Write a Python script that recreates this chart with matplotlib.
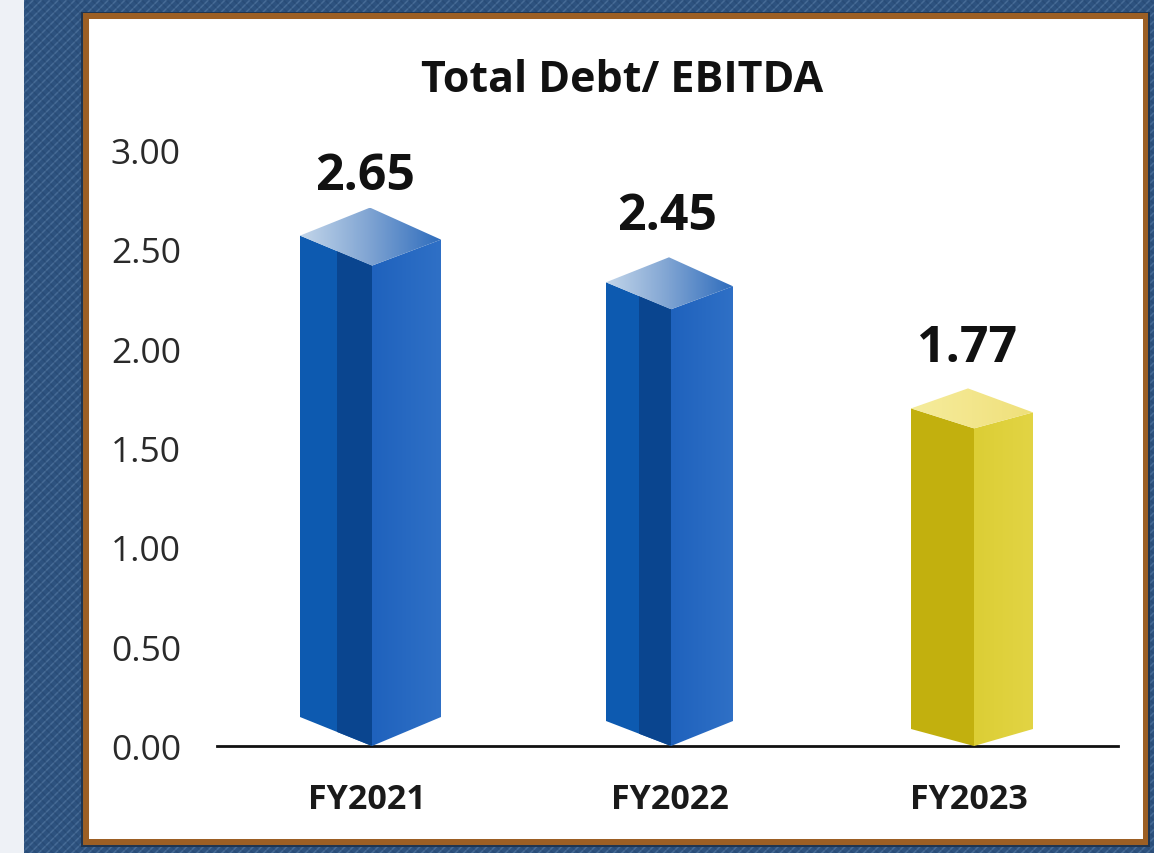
import matplotlib
matplotlib.use('Agg')
import matplotlib.pyplot as plt
import numpy as np
from matplotlib.colors import LinearSegmentedColormap
from matplotlib.patches import Polygon, Rectangle
from matplotlib.transforms import ScaledTranslation

categories = ['FY2021', 'FY2022', 'FY2023']
bar_labels = ['2.65', '2.45', '1.77']
# height of the back corner of each box
bar_tops = [2.71, 2.46, 1.80]
y_ticks = [0.0, 0.5, 1.0, 1.5, 2.0, 2.5, 3.0]

W, H = 1154, 854
plt.rcParams['font.family'] = ['Open Sans', 'DejaVu Sans']
plt.rcParams['hatch.linewidth'] = 1.1

fig = plt.figure(figsize=(W / 100, H / 100), dpi=100, facecolor='#eef1f6')

# page background, denim strip and brown frame, in pixel coordinates
bg = fig.add_axes([0, 0, 1, 1])
bg.set_xlim(0, W)
bg.set_ylim(H, 0)
bg.axis('off')
bg.add_patch(Rectangle((24, 0), W - 24, H, fc='#2d527f', ec='none'))
bg.add_patch(Rectangle((24, 0), W - 24, H, fc='none', ec='#5b80aa', hatch='////', lw=0, alpha=0.55))
bg.add_patch(Rectangle((24, 0), W - 24, H, fc='none', ec='#1d3a60', hatch='\\\\\\\\', lw=0, alpha=0.25))
bg.add_patch(Rectangle((81, 13), 1069, 835, fc='#1f3550', ec='none'))
bg.add_patch(Rectangle((83, 14), 1065, 832, fc='#9c5f24', ec='none'))
bg.add_patch(Rectangle((89, 20), 1054, 820, fc='white', ec='none'))

# plot axes: y 0-3 spans pixels 747-151, categories are 300 px apart
px_x = 1 / 300
px_y = 3 / 596
ax = fig.add_axes([217 / W, 1 - 747 / H, (1118 - 217) / W, 596 / H])
ax.set_xlim(-155 * px_x, 746 * px_x)
ax.set_ylim(0, 3)
ax.patch.set_visible(False)
for side in ['top', 'right', 'left']:
    ax.spines[side].set_visible(False)
ax.spines['bottom'].set_linewidth(2)
ax.spines['bottom'].set_color('#111111')

x_pos = np.arange(len(categories))

# box shape per bar, in pixels
front_shift = [0, -1, 2]
half_left = [72, 65, 63]
half_right = [69, 62, 59]
band = [35, 32, 0]
top_drop = [58, 52, 40]
side_drop = [28, 25, 20]
base_rise = [29, 25, 17]
apex_shift = [-2, -3, -4]
label_shift = [-7, -5, -5]
label_lift = [32, 41, 40]
tick_shift = [-5, -2, -3]

blue_top = LinearSegmentedColormap.from_list('bt', ['#c3d6ea', '#7ea3d2', '#2f6dbd'])
gold_top = LinearSegmentedColormap.from_list('gt', ['#f5ec9c', '#f3e68c', '#efe07a'])
blue_right = LinearSegmentedColormap.from_list('br', ['#1f62bd', '#2f70c6'])
gold_right = LinearSegmentedColormap.from_list('gr', ['#dcce35', '#e2d444'])


def gradient_face(pts, cmap):
    pts = np.array(pts)
    grad = np.linspace(0, 1, 128).reshape(1, -1)
    extent = [pts[:, 0].min(), pts[:, 0].max(), pts[:, 1].min(), pts[:, 1].max()]
    im = ax.imshow(grad, cmap=cmap, extent=extent, aspect='auto', origin='lower', zorder=3)
    clip = Polygon(pts, closed=True, transform=ax.transData, fc='none', ec='none')
    ax.add_patch(clip)
    im.set_clip_path(clip)


for i, top in enumerate(bar_tops):
    c = x_pos[i] + front_shift[i] * px_x
    left = c - half_left[i] * px_x
    right = c + half_right[i] * px_x
    side_top = top - side_drop[i] * px_y
    front_top = top - top_drop[i] * px_y
    side_base = base_rise[i] * px_y
    apex = x_pos[i] + apex_shift[i] * px_x
    is_gold = i == 2

    # left face, with the darker band next to the front edge on the blue bars
    left_color = '#c2b00e' if is_gold else '#0d5ab0'
    ax.add_patch(Polygon([(left, side_base), (left, side_top), (c, front_top), (c, 0)],
                         closed=True, fc=left_color, ec='none', zorder=3))
    if band[i]:
        inner = c - band[i] * px_x
        inner_top = side_top + (front_top - side_top) * (inner - left) / (c - left)
        inner_base = side_base * (c - inner) / (c - left)
        ax.add_patch(Polygon([(inner, inner_base), (inner, inner_top), (c, front_top), (c, 0)],
                             closed=True, fc='#0a458f', ec='none', zorder=3))

    gradient_face([(c, 0), (c, front_top), (right, side_top - 4 * px_y), (right, side_base)],
                  gold_right if is_gold else blue_right)
    gradient_face([(left, side_top), (apex, top), (right, side_top - 4 * px_y), (c, front_top)],
                  gold_top if is_gold else blue_top)

    ax.text(x_pos[i] + label_shift[i] * px_x, top + label_lift[i] * px_y, bar_labels[i],
            ha='center', va='center', fontsize=36, fontweight='bold', color='#111111', zorder=4)

ax.set_xticks(x_pos, categories, fontsize=24.5, fontweight='bold', color='#1a1a1a')
ax.set_yticks(y_ticks, ['%.2f' % v for v in y_ticks], fontsize=25.5, color='#2a2a2a')
ax.tick_params(axis='x', length=0, pad=26)
ax.tick_params(axis='y', length=0, pad=26)
for lab, dx in zip(ax.get_xticklabels(), tick_shift):
    lab.set_transform(lab.get_transform() + ScaledTranslation(dx / 100, 0, fig.dpi_scale_trans))

fig.text(622 / W, 1 - 80 / H, 'Total Debt/ EBITDA', ha='center', va='center',
         fontsize=31, fontweight='bold', color='#111111')

fig.savefig('out.png', dpi=100, facecolor=fig.get_facecolor())
